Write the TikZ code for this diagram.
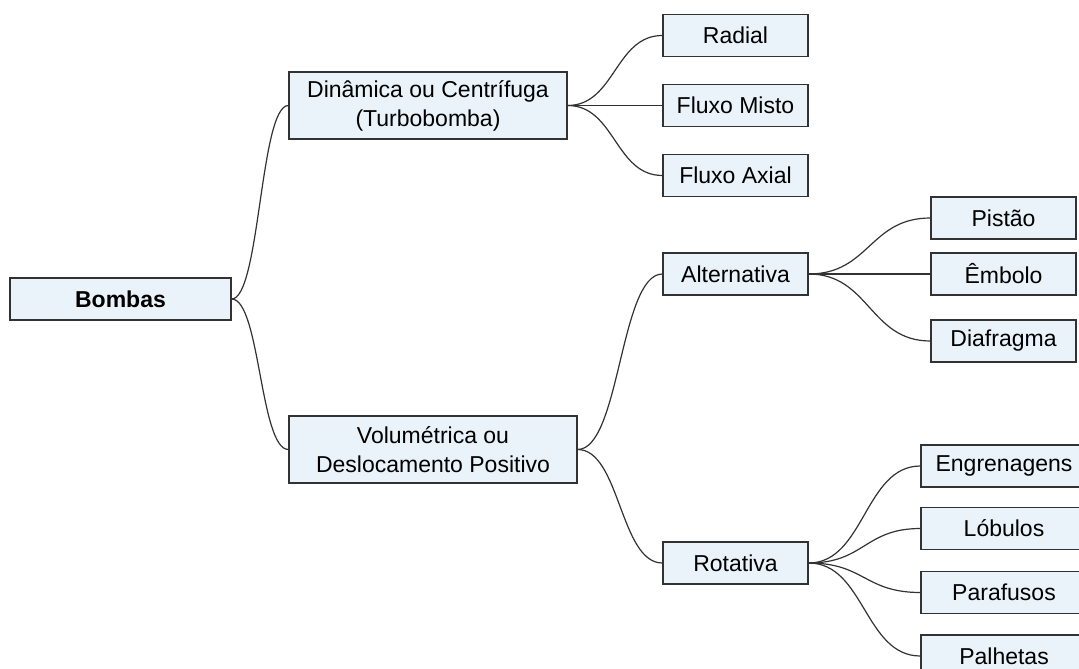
\documentclass[tikz,border=0pt]{standalone}
\usepackage{fontspec}
\setmainfont{Liberation Sans}
\usetikzlibrary{positioning,calc}

\definecolor{boxfill}{RGB}{234,243,250}
\definecolor{boxline}{RGB}{50,50,50}

\tikzset{
  box/.style={draw=boxline,fill=boxfill,line width=0.6pt,minimum width=72.5pt,
    minimum height=21pt,inner sep=2pt,align=center,
    font=\fontsize{11.5}{14.5}\selectfont},
  bigbox/.style={box,minimum height=33.5pt},
  branch/.style={draw=boxline,line width=0.6pt,
    to path={let \p1=(\tikztostart),\p2=(\tikztotarget) in
      .. controls ({(\x1+\x2)/2},\y1) and ({(\x1+\x2)/2},\y2) .. (\tikztotarget)}}
}

\begin{document}
\begin{tikzpicture}[on grid]
      \useasboundingbox (0,0) rectangle (539.5pt,-334pt);
      \clip (0,0) rectangle (539.5pt,-334pt);

      \node[box,minimum width=110.5pt,font=\fontsize{11.5}{14.5}\selectfont\bfseries]
                               (bombas)      at (60.25pt,-149.5pt)                     {Bombas};
      \node[bigbox,minimum width=139pt] (dinamica)    [above right=96.75pt and 153.75pt of bombas] {Dinâmica ou Centrífuga\\(Turbobomba)};
      \node[bigbox,minimum width=144pt] (volumetrica) [below right=75.25pt and 156.25pt of bombas]  {Volumétrica ou\\Deslocamento Positivo};

      \node[box]               (misto)       [right=153.75pt of dinamica]              {Fluxo Misto};
      \node[box]               (radial)      [above=35pt of misto]                     {Radial};
      \node[box]               (axial)       [below=35pt of misto]                     {Fluxo Axial};

      \node[box]               (alternativa) [above right=87.75pt and 151.25pt of volumetrica] {Alternativa};
      \node[box]               (rotativa)    [below right=56.75pt and 151.25pt of volumetrica] {Rotativa};

      \node[box]               (embolo)      [right=134pt of alternativa]              {Êmbolo};
      \node[box]               (pistao)      [above=28pt of embolo]                    {Pistão};
      \node[box]               (diafragma)   [below=33.5pt of embolo]                  {Diafragma};

      \node[box,minimum width=83pt] (engrenagens) [above right=48.5pt and 134.25pt of rotativa] {Engrenagens};
      \node[box,minimum width=83pt] (lobulos)     [below=31.25pt of engrenagens]      {Lóbulos};
      \node[box,minimum width=83pt] (parafusos)   [below=32pt of lobulos]             {Parafusos};
      \node[box,minimum width=83pt] (palhetas)    [below=31.75pt of parafusos]        {Palhetas};

      \path[branch] (bombas.east)      edge (dinamica.west)    edge (volumetrica.west)
                    (dinamica.east)    edge (radial.west)      edge (misto.west)
                                       edge (axial.west)
                    (volumetrica.east) edge (alternativa.west) edge (rotativa.west)
                    (alternativa.east) edge (pistao.west)      edge (embolo.west)
                                       edge (diafragma.west)
                    (rotativa.east)    edge (engrenagens.west) edge (lobulos.west)
                                       edge (parafusos.west)   edge (palhetas.west);
\end{tikzpicture}
\end{document}
